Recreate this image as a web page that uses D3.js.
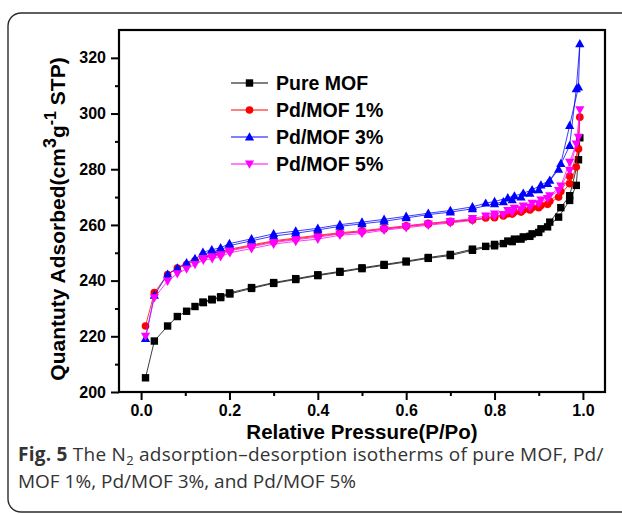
<!DOCTYPE html>
<html>
<head>
<meta charset="utf-8">
<script src="https://cdn.jsdelivr.net/npm/d3@7"></script>
<style>
  html, body { margin: 0; padding: 0; background: #fff; }
  svg { display: block; }
</style>
</head>
<body>
<svg id="chart" width="622" height="515"></svg>
<script>
// Relative pressures of the adsorption and desorption branches
const adsPressure = [0.010, 0.030, 0.060, 0.082, 0.103, 0.122, 0.141, 0.161, 0.180, 0.201,
  0.250, 0.300, 0.350, 0.400, 0.450, 0.500, 0.550, 0.600, 0.650, 0.700, 0.750, 0.800,
  0.820, 0.840, 0.860, 0.880, 0.900, 0.920, 0.945, 0.970, 0.985, 0.993];
const desPressure = [0.990, 0.970, 0.950, 0.925, 0.905, 0.885, 0.865, 0.845, 0.830, 0.800,
  0.780, 0.750, 0.700, 0.650, 0.600, 0.550, 0.500, 0.450, 0.400, 0.350, 0.300, 0.250,
  0.200, 0.180, 0.160, 0.140];

// Quantity adsorbed (cm3 g-1 STP)
const pureAds = [205.1, 218.3, 223.7, 227.1, 229.0, 230.7, 232.1, 233.1, 233.9, 235.2,
  237.2, 239.0, 240.4, 241.8, 243.0, 244.3, 245.5, 246.7, 248.0, 249.0, 250.9, 252.5,
  253.3, 254.0, 254.9, 255.9, 257.3, 259.3, 262.8, 268.8, 274.2, 291.3];
const pureDes = [283.4, 270.5, 266.2, 261.0, 258.6, 256.8, 255.7, 254.9, 254.2, 253.0,
  252.3, 251.3, 249.4, 248.3, 247.0, 245.8, 244.6, 243.3, 242.1, 240.7, 239.3, 237.5,
  235.6, 234.2, 233.3, 232.3];

const pd1Ads = [223.7, 235.7, 242.2, 244.5, 245.8, 247.2, 248.3, 249.0, 249.7, 251.0,
  252.5, 254.0, 255.0, 256.0, 256.9, 257.6, 258.5, 259.4, 260.2, 261.0, 261.8, 262.6,
  263.2, 263.9, 264.6, 265.4, 266.2, 267.4, 270.0, 274.8, 280.8, 298.7];
const pd1Des = [287.3, 277.5, 272.0, 268.5, 267.0, 266.2, 265.4, 264.6, 264.0, 263.0,
  262.5, 261.9, 261.3, 260.6, 259.7, 258.8, 257.9, 257.2, 256.3, 255.3, 254.3, 252.8,
  251.3, 250.2, 249.4, 248.7];

const pd3Ads = [219.2, 234.7, 242.3, 244.5, 246.4, 247.9, 249.5, 250.3, 251.1, 252.6,
  254.3, 256.0, 257.0, 258.2, 259.5, 260.4, 261.3, 262.5, 263.7, 264.6, 265.8, 267.6,
  268.3, 269.0, 270.0, 271.3, 272.6, 274.8, 280.0, 288.5, 308.9, 325.0];
const pd3Des = [309.5, 295.7, 282.0, 276.0, 274.3, 272.6, 271.4, 270.4, 269.7, 268.4,
  267.8, 266.5, 265.2, 264.2, 263.1, 262.0, 261.0, 260.1, 258.8, 257.8, 256.8, 255.0,
  253.3, 251.8, 251.1, 250.2];

const pd5Ads = [220.1, 233.9, 239.8, 242.5, 244.2, 245.8, 247.3, 247.9, 248.6, 250.0,
  251.5, 253.1, 254.1, 254.9, 256.3, 256.9, 258.1, 259.0, 259.9, 260.7, 261.6, 263.1,
  263.8, 264.6, 265.5, 266.4, 267.6, 269.5, 272.4, 279.6, 289.1, 301.4];
const pd5Des = [291.5, 282.5, 274.0, 270.5, 269.0, 267.8, 266.8, 266.0, 265.2, 264.0,
  263.2, 262.3, 261.3, 260.4, 259.5, 258.5, 257.5, 256.8, 255.6, 254.7, 253.7, 252.2,
  250.7, 249.3, 248.6, 248.0];

const seriesNames = ["Pure MOF", "Pd/MOF 1%", "Pd/MOF 3%", "Pd/MOF 5%"];
const seriesColors = ["#000000", "#ff0000", "#0000ff", "#ff00ff"];
const seriesShapes = ["square", "circle", "triangleUp", "triangleDown"];

const xTicks = [0.0, 0.2, 0.4, 0.6, 0.8, 1.0];
const xMinorTicks = [0.1, 0.3, 0.5, 0.7, 0.9];
const yTicks = [200, 220, 240, 260, 280, 300, 320];
const yMinorTicks = [210, 230, 250, 270, 290, 310];

const series = [
  { ads: pureAds, des: pureDes },
  { ads: pd1Ads, des: pd1Des },
  { ads: pd3Ads, des: pd3Des },
  { ads: pd5Ads, des: pd5Des }
].map((s, i) => ({
  name: seriesNames[i],
  color: seriesColors[i],
  shape: seriesShapes[i],
  points: adsPressure.map((p, j) => ({ p, v: s.ads[j] }))
    .concat(desPressure.map((p, j) => ({ p, v: s.des[j] })))
}));

const svg = d3.select("#chart");
const boldFont = "'Liberation Sans', Arial, sans-serif";

// Rounded figure panel
svg.append("rect")
  .attr("x", 8).attr("y", 13).attr("width", 640).attr("height", 499)
  .attr("rx", 13).attr("ry", 13)
  .attr("fill", "none").attr("stroke", "#2b2b2b").attr("stroke-width", 1.4);

const plotLeft = 119, plotRight = 605, plotTop = 30, plotBottom = 392;
const x = d3.scaleLinear().domain([-0.05, 1.05]).range([plotLeft, plotRight]);
const y = d3.scaleLinear().domain([200, 330]).range([plotBottom, plotTop]);

// Marker symbols
function markerPath(shape) {
  if (shape === "square") return "M-3.7,-3.7H3.7V3.7H-3.7Z";
  if (shape === "circle") return d3.symbol(d3.symbolCircle, 46)();
  if (shape === "triangleUp") return "M0,-4.8L4.6,3.4H-4.6Z";
  return "M0,4.8L4.6,-3.4H-4.6Z";
}

const line = d3.line().x(d => x(d.p)).y(d => y(d.v));

const plot = svg.append("g");
series.forEach(s => {
  plot.append("path")
    .attr("d", line(s.points))
    .attr("fill", "none")
    .attr("stroke", s.color)
    .attr("stroke-width", 0.9)
    .attr("stroke-opacity", 0.85);
  plot.append("g").selectAll("path")
    .data(s.points)
    .join("path")
    .attr("transform", d => `translate(${x(d.p)},${y(d.v)})`)
    .attr("d", markerPath(s.shape))
    .attr("fill", s.color);
});

// Axes
svg.append("g").attr("transform", `translate(0,${plotBottom})`)
  .call(d3.axisBottom(x).tickValues(xTicks).tickSize(8).tickPadding(5).tickFormat(d3.format(".1f")));
svg.append("g").attr("transform", `translate(0,${plotBottom})`)
  .call(d3.axisBottom(x).tickValues(xMinorTicks).tickSize(4).tickFormat(""));
svg.append("g").attr("transform", `translate(${plotLeft},0)`)
  .call(d3.axisLeft(y).tickValues(yTicks).tickSize(8).tickPadding(5));
svg.append("g").attr("transform", `translate(${plotLeft},0)`)
  .call(d3.axisLeft(y).tickValues(yMinorTicks).tickSize(4).tickFormat(""));

svg.selectAll(".domain").remove();
svg.selectAll(".tick line").attr("stroke", "#000").attr("stroke-width", 2);
svg.selectAll(".tick text")
  .attr("font-family", boldFont).attr("font-weight", "bold")
  .attr("font-size", 16).attr("fill", "#000");

// Frame
svg.append("rect")
  .attr("x", plotLeft).attr("y", plotTop)
  .attr("width", plotRight - plotLeft).attr("height", plotBottom - plotTop)
  .attr("fill", "none").attr("stroke", "#000").attr("stroke-width", 2.2);

// Axis titles
svg.append("text")
  .attr("x", (plotLeft + plotRight) / 2).attr("y", 438.5)
  .attr("text-anchor", "middle")
  .attr("font-family", boldFont).attr("font-weight", "bold").attr("font-size", 20.5)
  .text("Relative Pressure(P/Po)");

const yTitle = svg.append("text")
  .attr("transform", "translate(65,219) rotate(-90)")
  .attr("text-anchor", "middle")
  .attr("font-family", boldFont).attr("font-weight", "bold").attr("font-size", 21);
yTitle.append("tspan").text("Quantuty Adsorbed(cm");
yTitle.append("tspan").attr("dy", -9).attr("font-size", 18).text("3");
yTitle.append("tspan").attr("dy", 9).text("g");
yTitle.append("tspan").attr("dy", -9).attr("font-size", 16).text("-1");
yTitle.append("tspan").attr("dy", 9).text(" STP)");

// Legend
const legend = svg.append("g");
series.forEach((s, i) => {
  const ly = 83 + i * 27;
  legend.append("line")
    .attr("x1", 231).attr("x2", 268).attr("y1", ly).attr("y2", ly)
    .attr("stroke", s.color).attr("stroke-width", 1);
  legend.append("path")
    .attr("transform", `translate(249.5,${ly})`)
    .attr("d", markerPath(s.shape))
    .attr("fill", s.color);
  legend.append("text")
    .attr("x", 276).attr("y", ly + 7)
    .attr("font-family", boldFont).attr("font-weight", "bold").attr("font-size", 19.5)
    .text(s.name);
});

// Caption
const capFont = "'Open Sans', 'Noto Sans', sans-serif";
const cap1 = svg.append("text")
  .attr("x", 18).attr("y", 461)
  .attr("font-family", capFont).attr("font-size", 19).attr("fill", "#333")
  .attr("letter-spacing", 0.25);
cap1.append("tspan").attr("font-weight", "bold").text("Fig. 5");
cap1.append("tspan").text(" The N");
cap1.append("tspan").attr("dy", 4).attr("font-size", 13).text("2");
cap1.append("tspan").attr("dy", -4).text(" adsorption\u2013desorption isotherms of pure MOF, Pd/");
svg.append("text")
  .attr("x", 18).attr("y", 488)
  .attr("font-family", capFont).attr("font-size", 19).attr("fill", "#333")
  .text("MOF 1%, Pd/MOF 3%, and Pd/MOF 5%");
</script>
</body>
</html>
